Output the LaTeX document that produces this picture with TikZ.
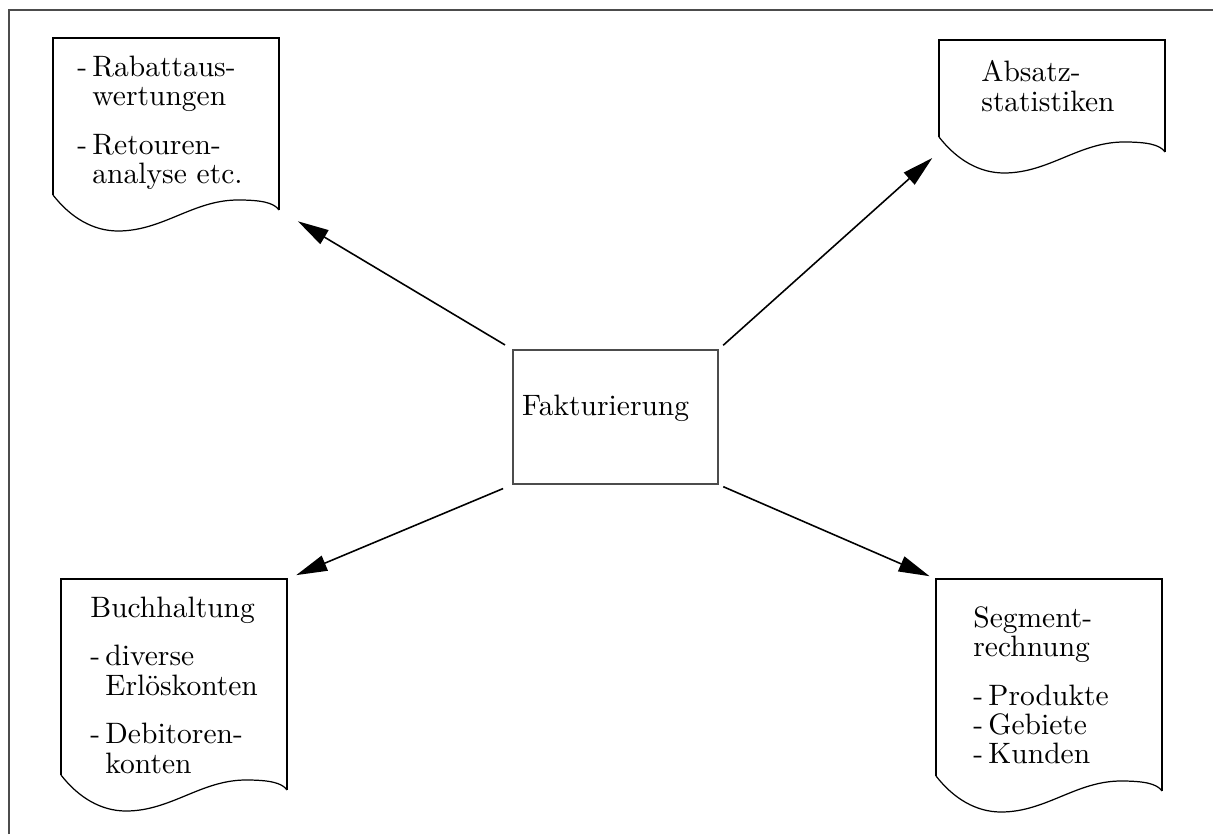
\documentclass[tikz,border=0pt]{standalone}
\usepackage{fontspec}
\setmainfont{lmroman10-regular.otf}
\usepackage{tikz}
\usetikzlibrary{arrows.meta}

\newcommand{\doctextfont}{\fontsize{16.8pt}{16.7pt}\selectfont}
\newcommand{\oben}{\rule{0pt}{12pt}}
\newcommand{\strich}{\makebox[8.6pt][l]{-}}
\newcommand{\einzug}{\hspace*{8.6pt}}
% outline of a document: straight sides, wavy bottom edge
\newcommand{\docoutline}[1]{%
  \draw[docside] ([yshift=0.3cm]#1.south west) -- (#1.north west) -- (#1.north east) -- (#1.south east);
  \draw[docwave] ([yshift=0.3cm]#1.south west)
    .. controls +(0.35,-0.45) and +(-0.5,0) .. ([xshift=1.3cm,yshift=-0.42cm]#1.south west)
    .. controls +(0.9,0) and +(-0.9,0) .. ([xshift=3.7cm,yshift=0.2cm]#1.south west)
    .. controls +(0.45,0) and +(-0.1,0.15) .. (#1.south east);
}

\tikzset{
  docbox/.style={inner sep=0pt, outer sep=0pt, minimum width=4.52cm, anchor=north west},
  docside/.style={line width=1.4pt},
  docwave/.style={line width=0.7pt},
  doctext/.style={inner sep=0pt, anchor=north west, align=left, font=\doctextfont},
  pfeil/.style={line width=0.9pt, -{Triangle[length=0.62cm,width=0.32cm]}},
  rahmen/.style={line width=0.8pt, black!70},
}

\begin{document}
\begin{tikzpicture}
  \useasboundingbox (0,0) rectangle (24.26,16.68);
  \draw[rahmen] (0.18,0) -- (0.18,16.48) -- (24.26,16.48);

  % centre
  \node[draw=black!70, line width=0.8pt, text width=3.74cm, inner xsep=0.18cm, inner ysep=0pt,
        text height=1.3cm, text depth=1.38cm, align=left, font=\doctextfont] (fak) at (12.31,8.34) {Fakturierung};

  % documents
  \node[docbox, minimum height=3.44cm] (rabatt) at (1.06,15.92) {};
  \node[docbox, minimum height=2.24cm] (absatz) at (18.78,15.88) {};
  \node[docbox, minimum height=4.22cm] (buch) at (1.22,5.10) {};
  \node[docbox, minimum height=4.24cm] (segment) at (18.72,5.10) {};
  \docoutline{rabatt}
  \docoutline{absatz}
  \docoutline{buch}
  \docoutline{segment}

  \node[doctext] (rabatttext) at (1.54,15.584)
    {\oben\strich Rabattaus-\\\einzug wertungen\\[11pt]\strich Retouren-\\\einzug analyse etc.};
  \node[doctext] (absatztext) at (19.62,15.47)
    {\oben Absatz-\\statistiken};
  \node[doctext] (buchtext) at (1.80,4.764)
    {\oben Buchhaltung\\[11pt]\strich diverse\\\einzug Erlöskonten\\[11pt]\strich Debitoren-\\\einzug konten};
  \node[doctext] (segmenttext) at (19.46,4.564)
    {\oben Segment-\\rechnung\\[11pt]\strich Produkte\\\strich Gebiete\\\strich Kunden};

  % arrows
  \draw[pfeil, shorten <=0.17cm, shorten >=0.44cm] (fak.north west) -- (rabatt.south east);
  \draw[pfeil, shorten <=0.12cm, shorten >=0.18cm] (fak.north east) -- (absatz.south west);
  \draw[pfeil, shorten <=0.2cm, shorten >=0.2cm] (fak.south west) -- (buch.north east);
  \draw[pfeil, shorten <=0.1cm, shorten >=0.14cm] (fak.south east) -- (segment.north west);
\end{tikzpicture}
\end{document}
